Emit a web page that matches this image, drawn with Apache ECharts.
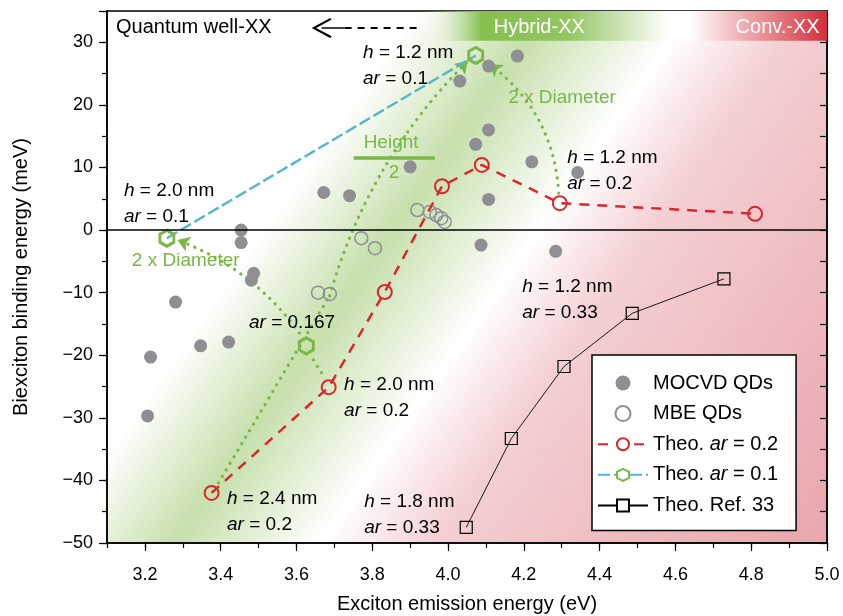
<!DOCTYPE html>
<html>
<head>
<meta charset="utf-8">
<script src="https://cdn.jsdelivr.net/npm/echarts@6/dist/echarts.min.js"></script>
<style>
  html, body { margin: 0; padding: 0; background: #fff; }
  #chart { width: 843px; height: 616px; }
</style>
</head>
<body>
<div id="chart"></div>
<script>
// measured points (x: exciton energy in eV, y: biexciton binding energy in meV)
const mocvdX = [3.207, 3.215, 3.281, 3.347, 3.421, 3.454, 3.454, 3.487, 3.481, 3.672, 3.740, 3.900, 4.031, 4.107, 4.183, 4.107, 4.073, 4.221, 4.342, 4.107, 4.087, 4.284]
const mocvdY = [-29.7, -20.3, -11.5, -18.5, -17.9, 0.0, -2.0, -6.9, -8.0, 6.0, 5.5, 10.1, 23.8, 26.2, 27.8, 16.0, 13.7, 10.9, 9.2, 4.9, -2.4, -3.4]
const mbeX = [3.657, 3.688, 3.771, 3.807, 3.919, 3.952, 3.969, 3.982, 3.991]
const mbeY = [-10.0, -10.2, -1.3, -2.9, 3.2, 2.9, 2.4, 1.9, 1.3]

// theory
const ar02X = [3.376, 3.685, 3.833, 3.984, 4.089, 4.295, 4.810]
const ar02Y = [-42.0, -25.1, -9.9, 7.0, 10.4, 4.3, 2.6]
const ar01X = [3.258, 4.073]
const ar01Y = [-1.3, 27.9]
const ar0167 = [3.626, -18.5]
const refX = [4.048, 4.167, 4.306, 4.486, 4.728]
const refY = [-47.5, -33.3, -21.8, -13.3, -7.8]

// axis ticks
const xMajorTicks = [3.2, 3.4, 3.6, 3.8, 4.0, 4.2, 4.4, 4.6, 4.8, 5.0]

// annotations (data coords)
const blackNotes = [
  ['{i|h} = 1.2 nm\n{i|ar} = 0.1', 3.777, 30.34],
  ['{i|h} = 2.0 nm\n{i|ar} = 0.1', 3.146, 8.3],
  ['{i|h} = 1.2 nm\n{i|ar} = 0.2', 4.316, 13.57],
  ['{i|ar} = 0.167', 3.476, -12.77],
  ['{i|h} = 2.0 nm\n{i|ar} = 0.2', 3.727, -22.67],
  ['{i|h} = 2.4 nm\n{i|ar} = 0.2', 3.418, -40.88],
  ['{i|h} = 1.8 nm\n{i|ar} = 0.33', 3.780, -41.36],
  ['{i|h} = 1.2 nm\n{i|ar} = 0.33', 4.197, -7.03]
]
const greenNotes = [
  ['Height', 3.851, 13.9],
  ['2', 3.859, 9.1],
  ['2 x Diameter', 4.302, 21.0],
  ['2 x Diameter', 3.309, -5.06]
]
const bandNotes = [
  ['Quantum well-XX', 3.125, 32.3, 'left', '#000'],
  ['Hybrid-XX', 4.242, 32.3, 'center', '#fff'],
  ['Conv.-XX', 4.871, 32.3, 'center', '#fff']
]
// curved green arrows: from, to, curveness
const bendArrows = [
  [[3.6875, -10.5], [4.052, 27.0], 0.13],
  [[4.292, 5.9], [4.110, 26.5], -0.23],
  [[3.608, -16.45], [3.286, -1.6], -0.15]
]
const dottedSegs = [
  [[3.394, -40.4], [3.6875, -10.5]],
  [[3.666, -22.8], [3.637, -20.0]]
]
const bandBottom = 30.25

const RED = '#d7282f'
const GREEN = '#7ab648'
const CYAN = '#55b6cb'
const GRAY = '#8e8e93'
const FONT = 'Liberation Sans'
const hexagon = 'path://M0,-10L8.66,-5L8.66,5L0,10L-8.66,5L-8.66,-5Z'
const chevron = 'path://M10,0L20,18.5L18.3,20L10,4.5L1.7,20L0,18.5Z'
const clear = 'rgba(255,255,255,0)'

const pts = (xs, ys) => xs.map((x, i) => [x, ys[i]])

const chart = echarts.init(document.getElementById('chart'))

const bgGradient = new echarts.graphic.LinearGradient(0, 0, 1, 0.944, [
  { offset: 0, color: '#ffffff' },
  { offset: 0.29, color: '#ffffff' },
  { offset: 0.41, color: '#c6e0ac' },
  { offset: 0.545, color: '#ffffff' },
  { offset: 0.65, color: '#f4d0d3' },
  { offset: 0.85, color: '#eeb8bc' },
  { offset: 1, color: '#e8a8ad' }
])
const bandGradient = new echarts.graphic.LinearGradient(0, 0, 1, 0, [
  { offset: 0, color: clear },
  { offset: 0.44, color: clear },
  { offset: 0.52, color: '#86bf4f' },
  { offset: 0.64, color: '#93c562' },
  { offset: 0.78, color: '#ffffff' },
  { offset: 0.81, color: '#ffffff' },
  { offset: 1, color: '#d32f3a' }
])

const noteSeries = (list, color, align, vAlign) => ({
  type: 'scatter',
  silent: true,
  symbolSize: 1,
  itemStyle: { color: clear, opacity: 1 },
  z: 10,
  data: list.map(n => ({ name: n[0], value: [n[1], n[2]] })),
  label: {
    show: true,
    position: [0, 0],
    align: align,
    verticalAlign: vAlign,
    formatter: p => p.name,
    color: color,
    opacity: 1,
    fontSize: 19,
    fontFamily: FONT,
    lineHeight: 26,
    rich: { i: { fontStyle: 'italic', fontSize: 19, fontFamily: FONT, lineHeight: 26, color: color } }
  }
})

const option = {
  animation: false,
  textStyle: { fontFamily: FONT },
  grid: [
    { left: 107, right: 16, top: 11, bottom: 73, outerBoundsMode: 'none', containLabel: false,
      show: true, borderColor: '#000', borderWidth: 1.5, backgroundColor: bgGradient },
    { left: 107, right: 16, top: 11, bottom: 73, outerBoundsMode: 'none', containLabel: false, show: false }
  ],
  legend: {
    data: [
      { name: 'MOCVD QDs' },
      { name: 'MBE QDs' },
      { name: 'Theo. ar = 0.2', itemStyle: { color: '#fff' } },
      { name: 'Theo. ar = 0.1', itemStyle: { color: '#fff' } },
      { name: 'Theo. Ref. 33', itemStyle: { color: '#fff' } }
    ],
    orient: 'vertical',
    left: 592,
    top: 355,
    itemWidth: 50,
    itemHeight: 15,
    itemGap: 10.6,
    padding: [18, 18, 15, 5],
    borderColor: '#000',
    borderWidth: 1.5,
    borderRadius: 0,
    backgroundColor: '#fff',
    formatter: n => n.replace(' ar ', ' {i|ar} '),
    textStyle: {
      fontSize: 20, color: '#000', fontFamily: FONT,
      rich: { i: { fontStyle: 'italic', fontSize: 20, fontFamily: FONT, color: '#000' } }
    }
  },
  xAxis: [
    {
      type: 'value', gridIndex: 0, min: 3.1, max: 5.0, position: 'bottom',
      name: 'Exciton emission energy (eV)', nameLocation: 'middle', nameGap: 51,
      nameTextStyle: { fontSize: 20, color: '#000', fontFamily: FONT },
      axisLine: { show: true, onZero: false, lineStyle: { color: '#000', width: 1.5 } },
      axisTick: { show: true, length: 8, customValues: xMajorTicks, lineStyle: { color: '#000', width: 1.2 } },
      axisLabel: { customValues: xMajorTicks, formatter: v => v.toFixed(1), fontSize: 18, color: '#000', margin: 23 },
      splitLine: { show: false }
    },
    {
      type: 'value', gridIndex: 1, min: 3.1, max: 5.0, interval: 0.1, position: 'bottom',
      axisLine: { show: false, onZero: false },
      axisTick: { show: true, length: 5, lineStyle: { color: '#000', width: 1.2 } },
      axisLabel: { show: false },
      splitLine: { show: false }
    }
  ],
  yAxis: [
    {
      type: 'value', gridIndex: 0, min: -50, max: 35, interval: 10, position: 'left',
      name: 'Biexciton binding energy (meV)', nameLocation: 'middle', nameGap: 76, nameRotate: 90,
      nameTextStyle: { fontSize: 20, color: '#000', fontFamily: FONT },
      axisLine: { show: true, onZero: false, lineStyle: { color: '#000', width: 1.5 } },
      axisTick: { show: true, length: 8, lineStyle: { color: '#000', width: 1.2 } },
      axisLabel: {
        fontSize: 18, color: '#000', margin: 14,
        formatter: v => (v % 10 === 0 && v < 35) ? (v < 0 ? '\u2212' + (-v) : String(v)) : ''
      },
      splitLine: { show: false }
    },
    {
      type: 'value', gridIndex: 0, min: -50, max: 35, interval: 5, position: 'right',
      axisLine: { show: true, onZero: false, lineStyle: { color: '#000', width: 1.5 } },
      axisTick: { show: true, inside: true, length: 7, lineStyle: { color: '#000', width: 1.2 } },
      axisLabel: { show: false },
      splitLine: { show: false }
    },
    {
      type: 'value', gridIndex: 1, min: -50, max: 35, interval: 5, position: 'left',
      axisLine: { show: false, onZero: false },
      axisTick: { show: true, length: 5, lineStyle: { color: '#000', width: 1.2 } },
      axisLabel: { show: false },
      splitLine: { show: false }
    }
  ],
  series: [
    {
      // top band + zero line
      name: 'frame', type: 'line', data: [], silent: true,
      markArea: {
        silent: true,
        itemStyle: { color: bandGradient },
        data: [[{ coord: [3.1, bandBottom] }, { coord: [5.0, 35] }]]
      },
      markLine: {
        silent: true, symbol: ['none', 'none'], label: { show: false },
        lineStyle: { color: '#000', width: 1.6, type: 'solid' },
        data: [{ yAxis: 0 }]
      }
    },
    {
      name: 'MOCVD QDs', type: 'scatter', data: pts(mocvdX, mocvdY),
      symbol: 'circle', symbolSize: 13, itemStyle: { color: GRAY, opacity: 1 }
    },
    {
      name: 'MBE QDs', type: 'scatter', data: pts(mbeX, mbeY),
      symbol: 'circle', symbolSize: 13,
      itemStyle: { color: clear, borderColor: GRAY, borderWidth: 1.5, opacity: 1 }
    },
    {
      name: 'Theo. ar = 0.1', type: 'line', data: pts(ar01X, ar01Y),
      symbol: hexagon, symbolSize: [14, 16],
      itemStyle: { color: clear, borderColor: GREEN, borderWidth: 3 },
      lineStyle: { color: CYAN, width: 2.4, type: [12, 4] }
    },
    {
      name: 'Theo. ar = 0.2', type: 'line', data: pts(ar02X, ar02Y),
      symbol: 'circle', symbolSize: 14,
      itemStyle: { color: clear, borderColor: RED, borderWidth: 2 },
      lineStyle: { color: RED, width: 2.5, type: [10, 8] }
    },
    {
      name: 'Theo. Ref. 33', type: 'line', data: pts(refX, refY),
      symbol: 'rect', symbolSize: 12,
      itemStyle: { color: clear, borderColor: '#000', borderWidth: 1.2 },
      lineStyle: { color: '#000', width: 0.9 }
    },
    {
      name: 'ar0167', type: 'scatter', data: [ar0167],
      symbol: hexagon, symbolSize: [14, 16],
      itemStyle: { color: clear, borderColor: GREEN, borderWidth: 3, opacity: 1 }
    },
    {
      type: 'lines', coordinateSystem: 'cartesian2d', silent: true,
      symbol: ['none', 'arrow'], symbolSize: 12,
      lineStyle: { color: GREEN, width: 3.2, type: [0.1, 7.5], cap: 'round', opacity: 1 },
      data: bendArrows.map(a => ({ coords: [a[0], a[1]], lineStyle: { curveness: a[2] } }))
    },
    {
      type: 'lines', coordinateSystem: 'cartesian2d', silent: true,
      symbol: ['none', 'none'],
      lineStyle: { color: GREEN, width: 3.2, type: [0.1, 7.5], cap: 'round', opacity: 1 },
      data: dottedSegs.map(s => ({ coords: s }))
    },
    {
      // fraction bar under "Height"
      type: 'lines', coordinateSystem: 'cartesian2d', silent: true,
      symbol: ['none', 'none'],
      lineStyle: { color: GREEN, width: 3.5, opacity: 1 },
      data: [{ coords: [[3.751, 11.55], [3.965, 11.55]] }]
    },
    {
      // arrow towards "Quantum well-XX"
      type: 'lines', coordinateSystem: 'cartesian2d', silent: true,
      symbol: ['none', chevron], symbolSize: 20,
      lineStyle: { color: '#000', width: 1.6, opacity: 1 },
      data: [{ coords: [[3.727, 32.3], [3.6665, 32.3]] }]
    },
    {
      type: 'lines', coordinateSystem: 'cartesian2d', silent: true,
      symbol: ['none', 'none'],
      lineStyle: { color: '#000', width: 1.8, type: [7, 6], opacity: 1 },
      data: [{ coords: [[3.727, 32.3], [3.925, 32.3]] }]
    },
    noteSeries(blackNotes, '#000', 'left', 'top'),
    noteSeries(greenNotes, GREEN, 'center', 'middle'),
    {
      type: 'scatter', silent: true, symbolSize: 1, itemStyle: { color: clear, opacity: 1 }, z: 10,
      data: bandNotes.map(n => ({
        name: n[0], value: [n[1], n[2]],
        label: { align: n[3], color: n[4] }
      })),
      label: {
        show: true, position: [0, 0], verticalAlign: 'middle', opacity: 1,
        formatter: p => p.name, fontSize: 20, fontFamily: FONT
      }
    }
  ]
}

chart.setOption(option)
</script>
</body>
</html>
